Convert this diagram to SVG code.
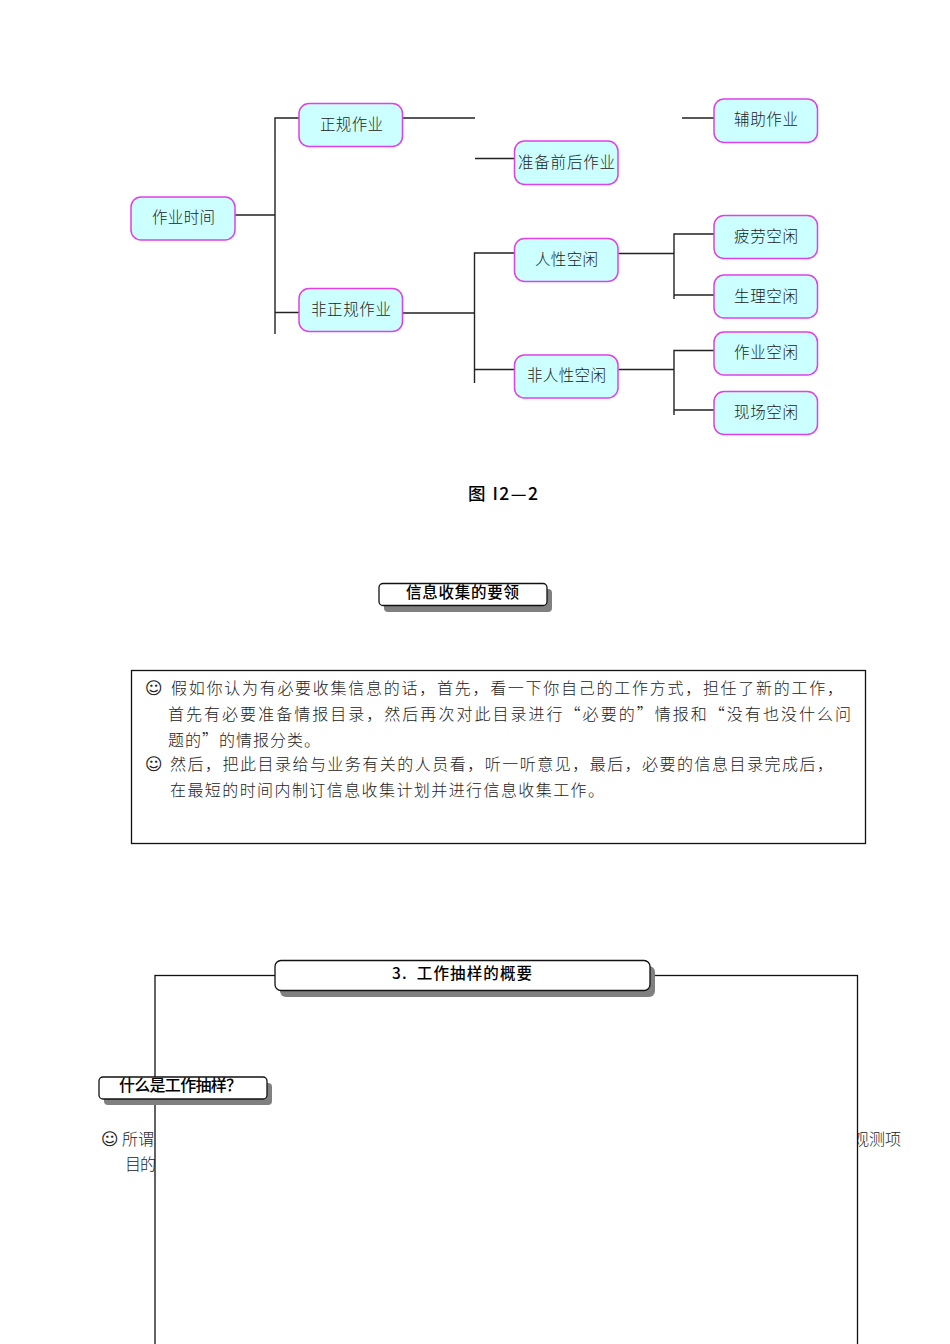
<svg xmlns="http://www.w3.org/2000/svg" width="950" height="1344" viewBox="0 0 950 1344">
<style>
text{font-family:"Noto Sans CJK SC","Liberation Serif",sans-serif;fill:#222}
.n rect{fill:#ccffff;stroke:#e040e8;stroke-width:1.5}
.n text{font-size:15.5px;font-weight:300}
#connectors path{fill:none;stroke:#222;stroke-width:1.4}
.t{font-size:16px;font-weight:300}
.s{font-family:"DejaVu Sans",sans-serif;font-size:17px}
.sh{fill:#808080}
.b{fill:#fff;stroke:#111;stroke-width:1.3}
.h{font-size:15.5px;font-weight:500;fill:#000}
</style>
<rect width="950" height="1344" fill="#fff"/>
<g id="connectors">
<path d="M235 215H275M275 334V118H299M275 312.500H299M403 118H475M475 158.500H514.500M682 118H714"/>
<path d="M403 313H474.500M474.500 383V253H514.500M474.500 369.500H514.500"/>
<path d="M618.500 253.500H674M674 299V234H714M674 295H714"/>
<path d="M618.500 369.500H674M674 415V350.500H714M674 410H714"/>
</g>
<g id="n-zuoye" class="n"><rect x="131" y="197" width="104" height="43" rx="10"/><text x="152" y="223" textLength="63" lengthAdjust="spacing">作业时间</text></g>
<g id="n-zhenggui" class="n"><rect x="299" y="103.500" width="103.500" height="43" rx="10"/><text x="320" y="130" textLength="63" lengthAdjust="spacing">正规作业</text></g>
<g id="n-feizheng" class="n"><rect x="299" y="288.500" width="103.500" height="43" rx="10"/><text x="311" y="315" textLength="80" lengthAdjust="spacing">非正规作业</text></g>
<g id="n-fuzhu" class="n"><rect x="714" y="99" width="103.500" height="43.500" rx="10"/><text x="734" y="125" textLength="64" lengthAdjust="spacing">辅助作业</text></g>
<g id="n-zhunbei" class="n"><rect x="514.500" y="141" width="103.500" height="43.500" rx="10"/><text x="518" y="167.500" textLength="97" lengthAdjust="spacing">准备前后作业</text></g>
<g id="n-renxing" class="n"><rect x="514.500" y="238.500" width="103.500" height="43" rx="10"/><text x="535" y="265" textLength="63" lengthAdjust="spacing">人性空闲</text></g>
<g id="n-feiren" class="n"><rect x="514.500" y="355" width="103.500" height="43" rx="10"/><text x="527" y="381" textLength="79" lengthAdjust="spacing">非人性空闲</text></g>
<g id="n-pilao" class="n"><rect x="714" y="215.500" width="103.500" height="43" rx="10"/><text x="734" y="242" textLength="64" lengthAdjust="spacing">疲劳空闲</text></g>
<g id="n-shengli" class="n"><rect x="714" y="275" width="103.500" height="43" rx="10"/><text x="734" y="302" textLength="64" lengthAdjust="spacing">生理空闲</text></g>
<g id="n-zuoyekx" class="n"><rect x="714" y="332" width="103.500" height="43" rx="10"/><text x="734" y="358" textLength="64" lengthAdjust="spacing">作业空闲</text></g>
<g id="n-xianchang" class="n"><rect x="714" y="391.500" width="103.500" height="43" rx="10"/><text x="734" y="418" textLength="64" lengthAdjust="spacing">现场空闲</text></g>
<text id="caption" x="468" y="500" textLength="70" lengthAdjust="spacing" style="font-size:17.500px;font-weight:500;fill:#000;font-family:'Noto Sans CJK SC',sans-serif">图 I2—2</text>
<g id="title-info"><rect class="sh" x="384" y="589" width="168" height="23" rx="4"/><rect class="b" x="379" y="583.500" width="168" height="22" rx="4"/><text class="h" x="406" y="598" textLength="113" lengthAdjust="spacing">信息收集的要领</text></g>
<g id="info-box"><rect x="131.500" y="670.500" width="734" height="173" fill="#fff" stroke="#111" stroke-width="1.3"/>
<text class="s" x="145" y="694">☺</text><text class="t" x="171" y="693.500" textLength="672" lengthAdjust="spacing">假如你认为有必要收集信息的话，首先，看一下你自己的工作方式，担任了新的工作，</text>
<text class="t" x="168" y="720" textLength="683" lengthAdjust="spacing">首先有必要准备情报目录，然后再次对此目录进行“必要的”情报和“没有也没什么问</text>
<text class="t" x="168" y="745.500" textLength="152" lengthAdjust="spacing">题的”的情报分类。</text>
<text class="s" x="145" y="770">☺</text><text class="t" x="170" y="769.500" textLength="663" lengthAdjust="spacing">然后，把此目录给与业务有关的人员看，听一听意见，最后，必要的信息目录完成后，</text>
<text class="t" x="170" y="796" textLength="434" lengthAdjust="spacing">在最短的时间内制订信息收集计划并进行信息收集工作。</text></g>
<g id="sampling-text"><text class="s" x="101" y="1145">☺</text><text class="t" x="122" y="1145" textLength="32" lengthAdjust="spacing">所谓</text><text class="t" x="125" y="1170" textLength="31" lengthAdjust="spacing">目的</text><text class="t" x="853" y="1145" textLength="48" lengthAdjust="spacing">观测项</text></g>
<rect id="sampling-frame" x="155" y="975.500" width="702.500" height="400" fill="#fff" stroke="#111" stroke-width="1.3"/>
<g id="title-sampling"><rect class="sh" x="280" y="966" width="375" height="31" rx="6"/><rect class="b" x="275" y="960.500" width="375" height="30" rx="6"/><text class="h" x="392" y="979" textLength="140" lengthAdjust="spacing" xml:space="preserve">3.  工作抽样的概要</text></g>
<g id="title-what"><rect class="sh" x="104" y="1083" width="168" height="22" rx="4"/><rect class="b" x="99" y="1077" width="168" height="22" rx="4"/><text class="h" x="119" y="1091" textLength="123" lengthAdjust="spacing" style="font-size:16px">什么是工作抽样？</text></g>
</svg>
